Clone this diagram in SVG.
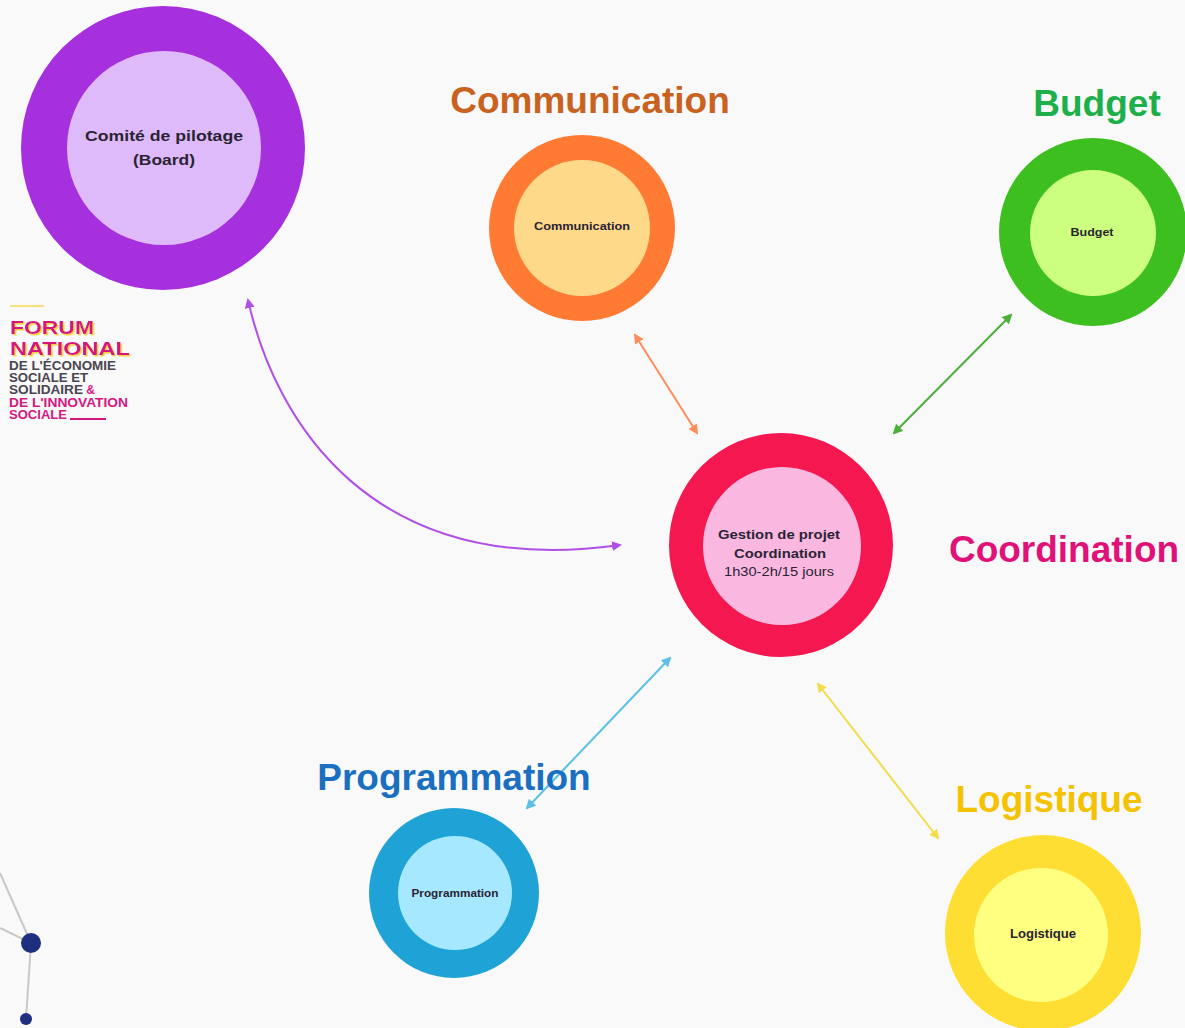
<svg xmlns="http://www.w3.org/2000/svg" width="1185" height="1028" viewBox="0 0 1185 1028">
<defs>
<style>
.title{font-family:"Liberation Sans",Arial,sans-serif;font-weight:bold;font-size:37px;text-anchor:middle}
.lbl{font-family:"Liberation Sans",Arial,sans-serif;font-weight:bold;fill:#2a2333;text-anchor:middle}
.reg{font-family:"Liberation Sans",Arial,sans-serif;fill:#2a2333;text-anchor:middle}
.logo{font-family:"Liberation Sans",Arial,sans-serif;font-weight:bold}
.edge{fill:none;stroke-width:2}
</style>
<filter id="ysh" x="-10%" y="-20%" width="130%" height="150%"><feDropShadow dx="1.5" dy="1.5" stdDeviation="0.3" flood-color="#f5d23a"/></filter>
<marker id="mP" viewBox="0 0 10 10" refX="8" refY="5" markerWidth="5" markerHeight="5" orient="auto-start-reverse"><path d="M0,0L10,5L0,10z" fill="#b04fe6"/></marker>
<marker id="mO" viewBox="0 0 10 10" refX="8" refY="5" markerWidth="5" markerHeight="5" orient="auto-start-reverse"><path d="M0,0L10,5L0,10z" fill="#ff8c5a"/></marker>
<marker id="mG" viewBox="0 0 10 10" refX="8" refY="5" markerWidth="5" markerHeight="5" orient="auto-start-reverse"><path d="M0,0L10,5L0,10z" fill="#4caf3a"/></marker>
<marker id="mB" viewBox="0 0 10 10" refX="8" refY="5" markerWidth="5" markerHeight="5" orient="auto-start-reverse"><path d="M0,0L10,5L0,10z" fill="#5bc0e6"/></marker>
<marker id="mY" viewBox="0 0 10 10" refX="8" refY="5" markerWidth="5" markerHeight="5" orient="auto-start-reverse"><path d="M0,0L10,5L0,10z" fill="#f2dc4a"/></marker>
</defs>
<rect width="1185" height="1028" fill="#f9f9f9"/>

<g id="connectors">
<path class="edge" d="M248,300 C275,420 370,580 620,545" stroke="#b04fe6" marker-start="url(#mP)" marker-end="url(#mP)"/>
<line class="edge" x1="635" y1="335" x2="697" y2="433" stroke="#ff8c5a" marker-start="url(#mO)" marker-end="url(#mO)"/>
<line class="edge" x1="1011" y1="315" x2="894" y2="433" stroke="#4caf3a" marker-start="url(#mG)" marker-end="url(#mG)"/>
<line class="edge" x1="670" y1="658" x2="527" y2="808" stroke="#5bc0e6" marker-start="url(#mB)" marker-end="url(#mB)"/>
<line class="edge" x1="818" y1="684" x2="938" y2="838" stroke="#f2dc4a" marker-start="url(#mY)" marker-end="url(#mY)"/>
</g>

<g id="comite">
<circle cx="163" cy="148" r="142" fill="#a630dd"/>
<circle cx="164" cy="148" r="97" fill="#debafa"/>
<text class="lbl" x="164" y="141" font-size="15" textLength="158" lengthAdjust="spacingAndGlyphs">Comité de pilotage</text>
<text class="lbl" x="164" y="165" font-size="15" textLength="62" lengthAdjust="spacingAndGlyphs">(Board)</text>
</g>

<g id="communication">
<text class="title" x="590" y="113" fill="#c8621e">Communication</text>
<circle cx="582" cy="228" r="93" fill="#ff7a33"/>
<circle cx="582" cy="228" r="68" fill="#ffd98a"/>
<text class="lbl" x="582" y="230" font-size="11" textLength="96" lengthAdjust="spacingAndGlyphs">Communication</text>
</g>

<g id="budget">
<text class="title" x="1097" y="116" fill="#1db04a">Budget</text>
<circle cx="1093" cy="232" r="94" fill="#3dbf1f"/>
<circle cx="1093" cy="233" r="63" fill="#ccff80"/>
<text class="lbl" x="1092" y="236" font-size="11" textLength="43" lengthAdjust="spacingAndGlyphs">Budget</text>
</g>

<g id="coordination">
<text class="title" x="1064" y="562" fill="#e0127a">Coordination</text>
<circle cx="781" cy="545" r="112" fill="#f5174f"/>
<circle cx="782" cy="546" r="79" fill="#fab8e0"/>
<text class="lbl" x="779" y="539" font-size="12" textLength="122" lengthAdjust="spacingAndGlyphs">Gestion de projet</text>
<text class="lbl" x="780" y="558" font-size="12" textLength="92" lengthAdjust="spacingAndGlyphs">Coordination</text>
<text class="reg" x="779" y="576" font-size="12" textLength="110" lengthAdjust="spacingAndGlyphs">1h30-2h/15 jours</text>
</g>

<g id="programmation">
<text class="title" x="454" y="790" fill="#1a6fc0">Programmation</text>
<circle cx="454" cy="893" r="85" fill="#1fa3d6"/>
<circle cx="455" cy="893" r="57" fill="#a6e8ff"/>
<text class="lbl" x="455" y="897" font-size="10" textLength="87" lengthAdjust="spacingAndGlyphs">Programmation</text>
</g>

<g id="logistique">
<text class="title" x="1049" y="812" fill="#f5c200">Logistique</text>
<circle cx="1043" cy="933" r="98" fill="#ffde33"/>
<circle cx="1041" cy="935" r="67" fill="#ffff80"/>
<text class="lbl" x="1043" y="938" font-size="12" textLength="66" lengthAdjust="spacingAndGlyphs">Logistique</text>
</g>

<g id="logo">
<line x1="10" y1="306" x2="44" y2="306" stroke="#f5e27a" stroke-width="2"/>
<text class="logo" x="10" y="334" font-size="18" fill="#d6167f" filter="url(#ysh)" textLength="84" lengthAdjust="spacingAndGlyphs">FORUM</text>
<text class="logo" x="10" y="355" font-size="18" fill="#d6167f" filter="url(#ysh)" textLength="120" lengthAdjust="spacingAndGlyphs">NATIONAL</text>
<text class="logo" x="9" y="370" font-size="12" fill="#4a4550" textLength="107" lengthAdjust="spacingAndGlyphs">DE L'ÉCONOMIE</text>
<text class="logo" x="9" y="382" font-size="12" fill="#4a4550" textLength="79" lengthAdjust="spacingAndGlyphs">SOCIALE ET</text>
<text class="logo" x="9" y="394" font-size="12" fill="#4a4550"><tspan textLength="74" lengthAdjust="spacingAndGlyphs">SOLIDAIRE</tspan><tspan fill="#d6167f"> &amp;</tspan></text>
<text class="logo" x="9" y="407" font-size="12" fill="#d6167f" textLength="119" lengthAdjust="spacingAndGlyphs">DE L'INNOVATION</text>
<text class="logo" x="9" y="419" font-size="12" fill="#d6167f" textLength="58" lengthAdjust="spacingAndGlyphs">SOCIALE</text>
<line x1="70" y1="419" x2="106" y2="419" stroke="#d6167f" stroke-width="2"/>
</g>

<g id="network">
<line x1="0" y1="873" x2="31" y2="943" stroke="#c8c8c8" stroke-width="2"/>
<line x1="0" y1="928" x2="31" y2="943" stroke="#c8c8c8" stroke-width="2"/>
<line x1="31" y1="943" x2="26" y2="1019" stroke="#c8c8c8" stroke-width="2"/>
<circle cx="31" cy="943" r="10" fill="#1f2f80"/>
<circle cx="26" cy="1019" r="6" fill="#1f2f80"/>
</g>
</svg>
